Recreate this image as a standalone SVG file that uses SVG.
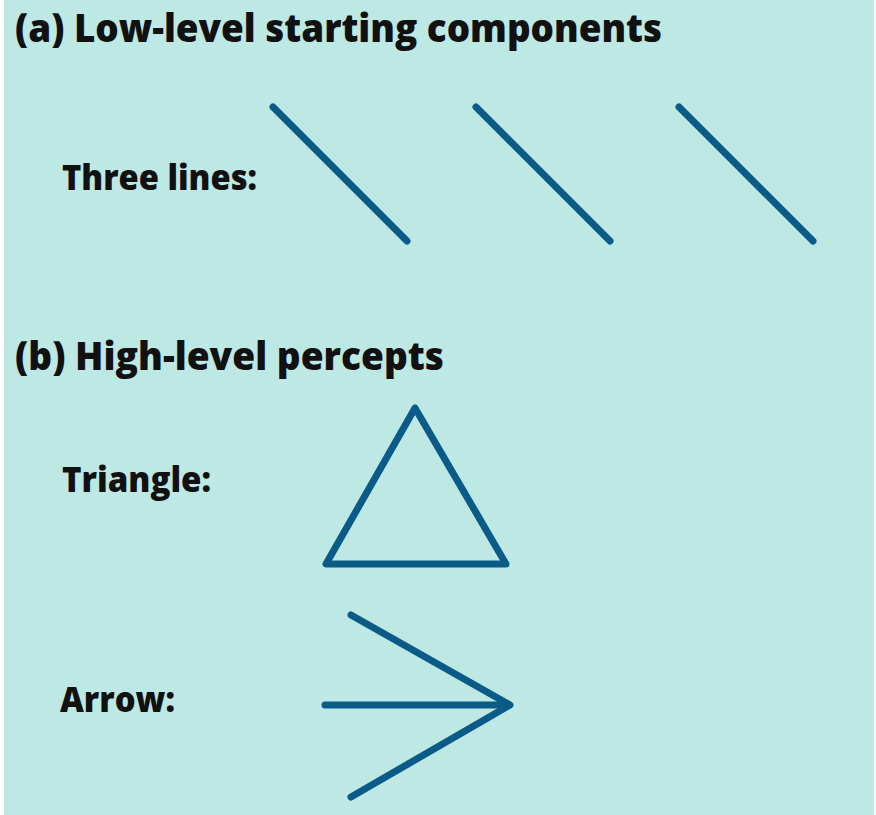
<svg xmlns="http://www.w3.org/2000/svg" width="876" height="815" viewBox="0 0 876 815">
  <style>
    .head { font-family: "Open Sans", "Noto Sans", "Liberation Sans", sans-serif; font-weight: 800; font-size: 38px; fill: #111; }
    .label { font-family: "Open Sans", "Noto Sans", "Liberation Sans", sans-serif; font-weight: 800; font-size: 35px; fill: #111; }
    .stroke { fill: none; stroke: #0b5b88; stroke-width: 7; stroke-linecap: round; stroke-linejoin: round; }
  </style>
  <rect x="0" y="0" width="876" height="815" fill="#ffffff"/>
  <rect x="4" y="0" width="870" height="815" fill="#bde8e4"/>

  <!-- section (a) -->
  <g id="section-a">
    <text class="head" x="15" y="42" textLength="647" lengthAdjust="spacingAndGlyphs">(a) Low-level starting components</text>
    <text class="label" x="62" y="190" textLength="195" lengthAdjust="spacingAndGlyphs">Three lines:</text>
    <g id="three-lines">
      <line class="stroke" x1="273" y1="107" x2="407" y2="241"/>
      <line class="stroke" x1="476" y1="107" x2="610" y2="241"/>
      <line class="stroke" x1="679" y1="107" x2="813" y2="241"/>
    </g>
  </g>

  <!-- section (b) -->
  <g id="section-b">
    <text class="head" x="15" y="370" textLength="429" lengthAdjust="spacingAndGlyphs">(b) High-level percepts</text>
    <g id="triangle">
      <text class="label" x="62" y="492" textLength="149" lengthAdjust="spacingAndGlyphs">Triangle:</text>
      <polygon class="stroke" points="415,408 326,564 506,564"/>
    </g>
    <g id="arrow">
      <text class="label" x="60" y="712" textLength="115" lengthAdjust="spacingAndGlyphs">Arrow:</text>
      <polyline class="stroke" points="351,615 510,705 351,797"/>
      <line class="stroke" x1="325" y1="705" x2="508" y2="705"/>
    </g>
  </g>
</svg>
